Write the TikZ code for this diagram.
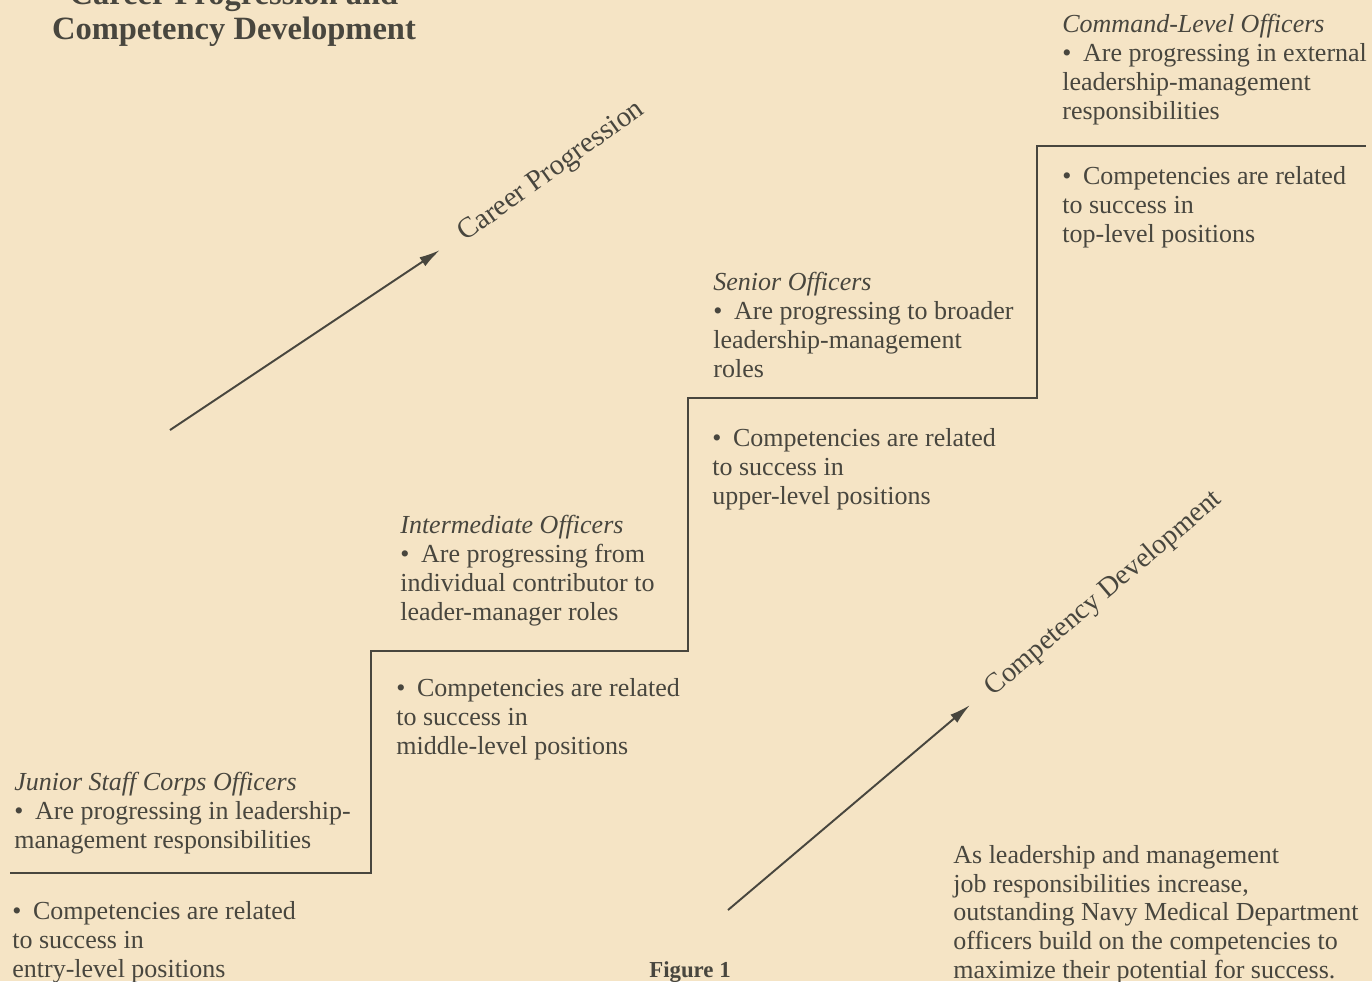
\documentclass[tikz,border=0pt]{standalone}
\usepackage{fontspec}
\setmainfont{Liberation Serif}
\usetikzlibrary{positioning,arrows.meta}

\definecolor{paper}{RGB}{245,228,197}
\definecolor{ink}{RGB}{72,70,62}
\newcommand{\dotitem}{\textbullet\hspace{0.45em}}

\begin{document}
\begin{tikzpicture}[
                x=0.02cm, y=-0.02cm,
                >={Latex[length=12pt,width=6pt]},
                every node/.style={inner sep=0pt,text=ink},
                body/.style={anchor=base west,align=left,font=\fontsize{14.8}{16.4}\selectfont},
                tag/.style={font=\fontsize{16.5}{18}\selectfont},
                stair/.style={draw=ink,line width=1.6pt},
                trend/.style={draw=ink,line width=1.1pt,->}
            ]

            \useasboundingbox[fill=paper] (0,0) rectangle (1372,981);

            % title, cut at the top of the page
            \node[anchor=south,align=center,font=\fontsize{18.5}{20}\selectfont\bfseries] (title) at (234,47)
                {Career Progression and\\Competency Development};

            % draw the steps
            \draw[stair] (10,873) -| (371,651) -| (688,398) -| (1037,146) -- (1366,146);

            % what each level is doing (nodes sit on their last line)
            \node[body] (junior) at (14,848) {\textit{Junior Staff Corps Officers}\\\dotitem Are progressing in leadership-\\management responsibilities};
            \node[body] (inter) at (400,620) {\textit{Intermediate Officers}\\\dotitem Are progressing from\\individual contributor to\\leader-manager roles};
            \node[body] (senior) at (713,377) {\textit{Senior Officers}\\\dotitem Are progressing to broader\\leadership-management\\roles};
            \node[body] (command) at (1062,119) {\textit{Command-Level Officers}\\\dotitem Are progressing in external\\leadership-management\\responsibilities};

            % competencies below each step
            \node[body] (juniorComp) at (12,977) {\dotitem Competencies are related\\to success in\\entry-level positions};
            \node[body] (interComp) at (396,754) {\dotitem Competencies are related\\to success in\\middle-level positions};
            \node[body] (seniorComp) at (712,504) {\dotitem Competencies are related\\to success in\\upper-level positions};
            \node[body] (commandComp) at (1062,242) {\dotitem Competencies are related\\to success in\\top-level positions};

            % the two trends
            \coordinate (cpTail) at (170,430);
            \coordinate (cpHead) at (440,250);
            \draw[trend] (cpTail) -- (cpHead);
            \node[tag,rotate=35.7] (cpLabel) at (552,172) {Career Progression};

            \coordinate (cdTail) at (728,910);
            \coordinate (cdHead) at (970,705);
            \draw[trend] (cdTail) -- (cdHead);
            \node[tag,rotate=40.4,font=\fontsize{16}{18}\selectfont] (cdLabel) at (1104,594) {Competency Development};

            \node[body,font=\fontsize{14.8}{16.3}\selectfont] (summary) at (953,978) {As leadership and management\\job responsibilities increase,\\outstanding Navy Medical Department\\officers build on the competencies to\\maximize their potential for success.};

            \node[anchor=base,font=\fontsize{13}{15}\selectfont\bfseries] (figure) at (690,977) {Figure 1};
        \end{tikzpicture}
\end{document}
